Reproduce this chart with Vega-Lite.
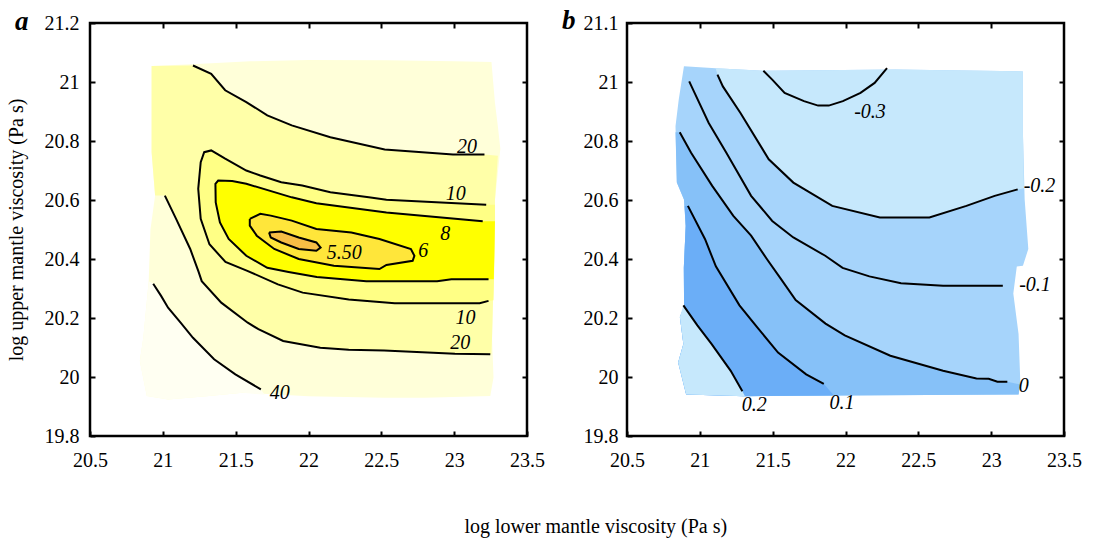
{
"$schema": "https://vega.github.io/schema/vega-lite/v6.json",
"padding": {"left": 4, "top": 5, "right": 5, "bottom": 0},
"background": "white",
"bounds": "flush",
"spacing": 100,
"title": {"text": "log lower mantle viscosity (Pa s)", "orient": "bottom", "anchor": "middle", "font": "Liberation Serif", "fontSize": 20, "fontWeight": "normal", "color": "black", "offset": 46, "dx": 52},
"config": {
  "view": {"stroke": "black", "strokeWidth": 2.5},
  "axis": {"labelFont": "Liberation Serif", "labelFontSize": 20, "labelColor": "black", "tickColor": "black", "tickWidth": 2, "tickSize": -5, "domain": false, "grid": false, "titleFont": "Liberation Serif", "titleFontSize": 20, "titleFontWeight": "normal", "titleColor": "black", "labelFlush": false, "labelOverlap": false, "labelBound": false}
},
"datasets": {
 "pa": [
  {"p":"base","x":20.923,"y":21.054},{"p":"base","x":21.2,"y":21.06},{"p":"base","x":21.6,"y":21.07},{"p":"base","x":22.0,"y":21.075},{"p":"base","x":22.535,"y":21.074},{"p":"base","x":23.0,"y":21.07},{"p":"base","x":23.256,"y":21.068},{"p":"base","x":23.28,"y":20.93},{"p":"base","x":23.3,"y":20.85},{"p":"base","x":23.317,"y":20.774},{"p":"base","x":23.28,"y":20.6},{"p":"base","x":23.28,"y":20.48},{"p":"base","x":23.272,"y":20.359},{"p":"base","x":23.26,"y":20.133},{"p":"base","x":23.27,"y":19.998},{"p":"base","x":23.248,"y":19.936},{"p":"base","x":22.8,"y":19.93},{"p":"base","x":22.519,"y":19.93},{"p":"base","x":22.0,"y":19.935},{"p":"base","x":21.547,"y":19.947},{"p":"base","x":21.3,"y":19.935},{"p":"base","x":21.036,"y":19.924},{"p":"base","x":20.89,"y":19.936},{"p":"base","x":20.842,"y":20.054},{"p":"base","x":20.866,"y":20.133},{"p":"base","x":20.903,"y":20.325},{"p":"base","x":20.915,"y":20.5},{"p":"base","x":20.947,"y":20.615},{"p":"base","x":20.923,"y":20.762},
  {"p":"gt40","x":20.934,"y":20.316},{"p":"gt40","x":20.988,"y":20.275},{"p":"gt40","x":21.036,"y":20.235},{"p":"gt40","x":21.122,"y":20.184},{"p":"gt40","x":21.207,"y":20.133},{"p":"gt40","x":21.352,"y":20.06},{"p":"gt40","x":21.498,"y":20.009},{"p":"gt40","x":21.673,"y":19.958},{"p":"gt40","x":21.7,"y":19.94},{"p":"gt40","x":21.547,"y":19.947},{"p":"gt40","x":21.3,"y":19.935},{"p":"gt40","x":21.036,"y":19.924},{"p":"gt40","x":20.89,"y":19.936},{"p":"gt40","x":20.842,"y":20.054},{"p":"gt40","x":20.866,"y":20.133},{"p":"gt40","x":20.903,"y":20.325},
  {"p":"lt20","x":20.923,"y":21.054},{"p":"lt20","x":21.207,"y":21.056},{"p":"lt20","x":21.332,"y":21.028},{"p":"lt20","x":21.428,"y":20.972},{"p":"lt20","x":21.573,"y":20.932},{"p":"lt20","x":21.717,"y":20.887},{"p":"lt20","x":21.885,"y":20.853},{"p":"lt20","x":22.15,"y":20.813},{"p":"lt20","x":22.523,"y":20.771},{"p":"lt20","x":22.992,"y":20.754},{"p":"lt20","x":23.208,"y":20.754},{"p":"lt20","x":23.3,"y":20.75},{"p":"lt20","x":23.28,"y":20.6},{"p":"lt20","x":23.28,"y":20.48},{"p":"lt20","x":23.272,"y":20.359},{"p":"lt20","x":23.26,"y":20.133},{"p":"lt20","x":23.255,"y":20.077},{"p":"lt20","x":23.248,"y":20.077},{"p":"lt20","x":23.005,"y":20.079},{"p":"lt20","x":22.519,"y":20.09},{"p":"lt20","x":22.276,"y":20.092},{"p":"lt20","x":22.081,"y":20.099},{"p":"lt20","x":21.826,"y":20.122},{"p":"lt20","x":21.656,"y":20.162},{"p":"lt20","x":21.583,"y":20.184},{"p":"lt20","x":21.401,"y":20.252},{"p":"lt20","x":21.267,"y":20.325},{"p":"lt20","x":21.245,"y":20.357},{"p":"lt20","x":21.188,"y":20.434},{"p":"lt20","x":21.091,"y":20.536},{"p":"lt20","x":21.014,"y":20.615},{"p":"lt20","x":20.947,"y":20.615},{"p":"lt20","x":20.923,"y":20.762},
  {"p":"lt10","x":23.28,"y":20.584},{"p":"lt10","x":23.22,"y":20.584},{"p":"lt10","x":22.535,"y":20.601},{"p":"lt10","x":22.414,"y":20.609},{"p":"lt10","x":22.15,"y":20.626},{"p":"lt10","x":21.957,"y":20.649},{"p":"lt10","x":21.813,"y":20.66},{"p":"lt10","x":21.669,"y":20.683},{"p":"lt10","x":21.573,"y":20.7},{"p":"lt10","x":21.428,"y":20.74},{"p":"lt10","x":21.332,"y":20.768},{"p":"lt10","x":21.284,"y":20.762},{"p":"lt10","x":21.26,"y":20.728},{"p":"lt10","x":21.243,"y":20.638},{"p":"lt10","x":21.26,"y":20.536},{"p":"lt10","x":21.32,"y":20.45},{"p":"lt10","x":21.43,"y":20.39},{"p":"lt10","x":21.58,"y":20.36},{"p":"lt10","x":21.79,"y":20.314},{"p":"lt10","x":21.96,"y":20.286},{"p":"lt10","x":22.276,"y":20.263},{"p":"lt10","x":22.592,"y":20.25},{"p":"lt10","x":23.175,"y":20.25},{"p":"lt10","x":23.236,"y":20.258},{"p":"lt10","x":23.27,"y":20.26},{"p":"lt10","x":23.28,"y":20.48},
  {"p":"lt8","x":23.28,"y":20.528},{"p":"lt8","x":23.196,"y":20.528},{"p":"lt8","x":22.535,"y":20.558},{"p":"lt8","x":22.054,"y":20.589},{"p":"lt8","x":21.885,"y":20.609},{"p":"lt8","x":21.573,"y":20.655},{"p":"lt8","x":21.476,"y":20.664},{"p":"lt8","x":21.38,"y":20.666},{"p":"lt8","x":21.361,"y":20.655},{"p":"lt8","x":21.363,"y":20.592},{"p":"lt8","x":21.392,"y":20.524},{"p":"lt8","x":21.452,"y":20.468},{"p":"lt8","x":21.573,"y":20.411},{"p":"lt8","x":21.717,"y":20.37},{"p":"lt8","x":21.863,"y":20.356},{"p":"lt8","x":22.057,"y":20.339},{"p":"lt8","x":22.397,"y":20.325},{"p":"lt8","x":22.883,"y":20.325},{"p":"lt8","x":22.981,"y":20.331},{"p":"lt8","x":23.236,"y":20.331},{"p":"lt8","x":23.272,"y":20.331},
  {"p":"lt6","x":21.597,"y":20.536},{"p":"lt6","x":21.669,"y":20.553},{"p":"lt6","x":21.741,"y":20.547},{"p":"lt6","x":21.885,"y":20.53},{"p":"lt6","x":22.054,"y":20.502},{"p":"lt6","x":22.294,"y":20.49},{"p":"lt6","x":22.487,"y":20.468},{"p":"lt6","x":22.703,"y":20.434},{"p":"lt6","x":22.727,"y":20.411},{"p":"lt6","x":22.715,"y":20.394},{"p":"lt6","x":22.535,"y":20.38},{"p":"lt6","x":22.487,"y":20.366},{"p":"lt6","x":22.174,"y":20.377},{"p":"lt6","x":21.933,"y":20.4},{"p":"lt6","x":21.765,"y":20.434},{"p":"lt6","x":21.645,"y":20.479},{"p":"lt6","x":21.597,"y":20.513},
  {"p":"lt55","x":21.729,"y":20.49},{"p":"lt55","x":21.813,"y":20.493},{"p":"lt55","x":21.933,"y":20.473},{"p":"lt55","x":22.054,"y":20.456},{"p":"lt55","x":22.083,"y":20.439},{"p":"lt55","x":22.054,"y":20.428},{"p":"lt55","x":21.933,"y":20.434},{"p":"lt55","x":21.813,"y":20.456},{"p":"lt55","x":21.741,"y":20.473}
 ],
 "la": [
  {"id":"a40","x":20.934,"y":20.316},{"id":"a40","x":20.988,"y":20.275},{"id":"a40","x":21.036,"y":20.235},{"id":"a40","x":21.122,"y":20.184},{"id":"a40","x":21.207,"y":20.133},{"id":"a40","x":21.352,"y":20.06},{"id":"a40","x":21.498,"y":20.009},{"id":"a40","x":21.673,"y":19.958},
  {"id":"a20u","x":21.207,"y":21.056},{"id":"a20u","x":21.332,"y":21.028},{"id":"a20u","x":21.428,"y":20.972},{"id":"a20u","x":21.573,"y":20.932},{"id":"a20u","x":21.717,"y":20.887},{"id":"a20u","x":21.885,"y":20.853},{"id":"a20u","x":22.15,"y":20.813},{"id":"a20u","x":22.523,"y":20.771},{"id":"a20u","x":22.992,"y":20.754},{"id":"a20u","x":23.208,"y":20.754},
  {"id":"a20l","x":21.014,"y":20.615},{"id":"a20l","x":21.091,"y":20.536},{"id":"a20l","x":21.188,"y":20.434},{"id":"a20l","x":21.245,"y":20.357},{"id":"a20l","x":21.267,"y":20.325},{"id":"a20l","x":21.401,"y":20.252},{"id":"a20l","x":21.583,"y":20.184},{"id":"a20l","x":21.656,"y":20.162},{"id":"a20l","x":21.826,"y":20.122},{"id":"a20l","x":22.081,"y":20.099},{"id":"a20l","x":22.276,"y":20.092},{"id":"a20l","x":22.519,"y":20.09},{"id":"a20l","x":23.005,"y":20.079},{"id":"a20l","x":23.248,"y":20.077},
  {"id":"a10","x":23.22,"y":20.584},{"id":"a10","x":22.535,"y":20.601},{"id":"a10","x":22.414,"y":20.609},{"id":"a10","x":22.15,"y":20.626},{"id":"a10","x":21.957,"y":20.649},{"id":"a10","x":21.813,"y":20.66},{"id":"a10","x":21.669,"y":20.683},{"id":"a10","x":21.573,"y":20.7},{"id":"a10","x":21.428,"y":20.74},{"id":"a10","x":21.332,"y":20.768},{"id":"a10","x":21.284,"y":20.762},{"id":"a10","x":21.26,"y":20.728},{"id":"a10","x":21.243,"y":20.638},{"id":"a10","x":21.26,"y":20.536},{"id":"a10","x":21.32,"y":20.45},{"id":"a10","x":21.43,"y":20.39},{"id":"a10","x":21.58,"y":20.36},{"id":"a10","x":21.79,"y":20.314},{"id":"a10","x":21.96,"y":20.286},{"id":"a10","x":22.276,"y":20.263},{"id":"a10","x":22.592,"y":20.25},{"id":"a10","x":23.175,"y":20.25},{"id":"a10","x":23.236,"y":20.258},
  {"id":"a8","x":23.196,"y":20.528},{"id":"a8","x":22.535,"y":20.558},{"id":"a8","x":22.054,"y":20.589},{"id":"a8","x":21.885,"y":20.609},{"id":"a8","x":21.573,"y":20.655},{"id":"a8","x":21.476,"y":20.664},{"id":"a8","x":21.38,"y":20.666},{"id":"a8","x":21.361,"y":20.655},{"id":"a8","x":21.363,"y":20.592},{"id":"a8","x":21.392,"y":20.524},{"id":"a8","x":21.452,"y":20.468},{"id":"a8","x":21.573,"y":20.411},{"id":"a8","x":21.717,"y":20.37},{"id":"a8","x":21.863,"y":20.356},{"id":"a8","x":22.057,"y":20.339},{"id":"a8","x":22.397,"y":20.325},{"id":"a8","x":22.883,"y":20.325},{"id":"a8","x":22.981,"y":20.331},{"id":"a8","x":23.236,"y":20.331},
  {"id":"a6","x":21.597,"y":20.536},{"id":"a6","x":21.669,"y":20.553},{"id":"a6","x":21.741,"y":20.547},{"id":"a6","x":21.885,"y":20.53},{"id":"a6","x":22.054,"y":20.502},{"id":"a6","x":22.294,"y":20.49},{"id":"a6","x":22.487,"y":20.468},{"id":"a6","x":22.703,"y":20.434},{"id":"a6","x":22.727,"y":20.411},{"id":"a6","x":22.715,"y":20.394},{"id":"a6","x":22.535,"y":20.38},{"id":"a6","x":22.487,"y":20.366},{"id":"a6","x":22.174,"y":20.377},{"id":"a6","x":21.933,"y":20.4},{"id":"a6","x":21.765,"y":20.434},{"id":"a6","x":21.645,"y":20.479},{"id":"a6","x":21.597,"y":20.513},{"id":"a6","x":21.597,"y":20.536},
  {"id":"a55","x":21.729,"y":20.49},{"id":"a55","x":21.813,"y":20.493},{"id":"a55","x":21.933,"y":20.473},{"id":"a55","x":22.054,"y":20.456},{"id":"a55","x":22.083,"y":20.439},{"id":"a55","x":22.054,"y":20.428},{"id":"a55","x":21.933,"y":20.434},{"id":"a55","x":21.813,"y":20.456},{"id":"a55","x":21.741,"y":20.473},{"id":"a55","x":21.729,"y":20.49}
 ],
 "ta": [
  {"t":"20","x":23.088,"y":20.779},{"t":"10","x":23.011,"y":20.621},{"t":"8","x":22.939,"y":20.485},{"t":"6","x":22.787,"y":20.428},{"t":"5.50","x":22.246,"y":20.422},{"t":"10","x":23.078,"y":20.201},{"t":"20","x":23.041,"y":20.116},{"t":"40","x":21.802,"y":19.947}
 ],
 "pb": [
  {"p":"base","x":20.891,"y":21.053},{"p":"base","x":21.109,"y":21.047},{"p":"base","x":21.436,"y":21.038},{"p":"base","x":22.345,"y":21.042},{"p":"base","x":23.218,"y":21.036},{"p":"base","x":23.218,"y":20.828},{"p":"base","x":23.23,"y":20.602},{"p":"base","x":23.255,"y":20.434},{"p":"base","x":23.218,"y":20.377},{"p":"base","x":23.176,"y":20.375},{"p":"base","x":23.152,"y":20.283},{"p":"base","x":23.188,"y":20.146},{"p":"base","x":23.2,"y":19.986},{"p":"base","x":23.188,"y":19.941},{"p":"base","x":21.947,"y":19.937},{"p":"base","x":21.308,"y":19.935},{"p":"base","x":20.906,"y":19.941},{"p":"base","x":20.851,"y":20.049},{"p":"base","x":20.887,"y":20.112},{"p":"base","x":20.863,"y":20.203},{"p":"base","x":20.892,"y":20.238},{"p":"base","x":20.89,"y":20.37},{"p":"base","x":20.903,"y":20.512},{"p":"base","x":20.891,"y":20.602},{"p":"base","x":20.842,"y":20.659},{"p":"base","x":20.833,"y":20.85},{"p":"base","x":20.855,"y":20.94},
  {"p":"pale","x":21.109,"y":21.047},{"p":"pale","x":21.436,"y":21.038},{"p":"pale","x":22.345,"y":21.042},{"p":"pale","x":23.218,"y":21.036},{"p":"pale","x":23.218,"y":20.828},{"p":"pale","x":23.225,"y":20.64},{"p":"pale","x":23.182,"y":20.636},{"p":"pale","x":23.024,"y":20.614},{"p":"pale","x":22.83,"y":20.58},{"p":"pale","x":22.576,"y":20.541},{"p":"pale","x":22.236,"y":20.541},{"p":"pale","x":21.909,"y":20.58},{"p":"pale","x":21.642,"y":20.659},{"p":"pale","x":21.473,"y":20.738},{"p":"pale","x":21.279,"y":20.895},{"p":"pale","x":21.158,"y":20.985},{"p":"pale","x":21.121,"y":21.025},
  {"p":"B","x":20.862,"y":20.83},{"p":"B","x":20.94,"y":20.76},{"p":"B","x":21.085,"y":20.648},{"p":"B","x":21.23,"y":20.546},{"p":"B","x":21.352,"y":20.479},{"p":"B","x":21.46,"y":20.4},{"p":"B","x":21.56,"y":20.33},{"p":"B","x":21.658,"y":20.261},{"p":"B","x":21.863,"y":20.181},{"p":"B","x":21.995,"y":20.141},{"p":"B","x":22.308,"y":20.072},{"p":"B","x":22.67,"y":20.021},{"p":"B","x":22.899,"y":19.995},{"p":"B","x":22.983,"y":19.994},{"p":"B","x":23.043,"y":19.984},{"p":"B","x":23.111,"y":19.984},{"p":"B","x":23.2,"y":19.975},{"p":"B","x":23.188,"y":19.941},{"p":"B","x":21.947,"y":19.937},{"p":"B","x":21.308,"y":19.935},{"p":"B","x":20.906,"y":19.941},{"p":"B","x":20.851,"y":20.049},{"p":"B","x":20.887,"y":20.112},{"p":"B","x":20.863,"y":20.203},{"p":"B","x":20.892,"y":20.238},{"p":"B","x":20.89,"y":20.37},{"p":"B","x":20.903,"y":20.512},{"p":"B","x":20.891,"y":20.602},{"p":"B","x":20.842,"y":20.659},{"p":"B","x":20.833,"y":20.83},
  {"p":"C","x":20.918,"y":20.58},{"p":"C","x":21.036,"y":20.467},{"p":"C","x":21.11,"y":20.375},{"p":"C","x":21.272,"y":20.243},{"p":"C","x":21.393,"y":20.169},{"p":"C","x":21.537,"y":20.083},{"p":"C","x":21.73,"y":20.009},{"p":"C","x":21.851,"y":19.977},{"p":"C","x":21.92,"y":19.937},{"p":"C","x":21.308,"y":19.935},{"p":"C","x":20.906,"y":19.941},{"p":"C","x":20.851,"y":20.049},{"p":"C","x":20.887,"y":20.112},{"p":"C","x":20.863,"y":20.203},{"p":"C","x":20.892,"y":20.238},{"p":"C","x":20.89,"y":20.37},{"p":"C","x":20.903,"y":20.512},{"p":"C","x":20.896,"y":20.58},
  {"p":"D","x":20.887,"y":20.243},{"p":"D","x":20.983,"y":20.175},{"p":"D","x":21.08,"y":20.112},{"p":"D","x":21.212,"y":20.021},{"p":"D","x":21.292,"y":19.952},{"p":"D","x":21.31,"y":19.935},{"p":"D","x":20.906,"y":19.941},{"p":"D","x":20.851,"y":20.049},{"p":"D","x":20.887,"y":20.112},{"p":"D","x":20.863,"y":20.203}
 ],
 "lb": [
  {"id":"b03","x":21.436,"y":21.038},{"id":"b03","x":21.497,"y":21.008},{"id":"b03","x":21.582,"y":20.963},{"id":"b03","x":21.715,"y":20.935},{"id":"b03","x":21.812,"y":20.92},{"id":"b03","x":21.885,"y":20.92},{"id":"b03","x":21.982,"y":20.935},{"id":"b03","x":22.103,"y":20.963},{"id":"b03","x":22.2,"y":20.997},{"id":"b03","x":22.285,"y":21.047},
  {"id":"b02","x":21.121,"y":21.025},{"id":"b02","x":21.158,"y":20.985},{"id":"b02","x":21.279,"y":20.895},{"id":"b02","x":21.473,"y":20.738},{"id":"b02","x":21.642,"y":20.659},{"id":"b02","x":21.909,"y":20.58},{"id":"b02","x":22.236,"y":20.541},{"id":"b02","x":22.576,"y":20.541},{"id":"b02","x":22.83,"y":20.58},{"id":"b02","x":23.024,"y":20.614},{"id":"b02","x":23.182,"y":20.636},
  {"id":"b01","x":20.927,"y":21.002},{"id":"b01","x":20.964,"y":20.963},{"id":"b01","x":21.061,"y":20.861},{"id":"b01","x":21.182,"y":20.76},{"id":"b01","x":21.352,"y":20.614},{"id":"b01","x":21.497,"y":20.529},{"id":"b01","x":21.642,"y":20.473},{"id":"b01","x":21.861,"y":20.411},{"id":"b01","x":21.98,"y":20.37},{"id":"b01","x":22.164,"y":20.341},{"id":"b01","x":22.381,"y":20.318},{"id":"b01","x":22.67,"y":20.309},{"id":"b01","x":23.08,"y":20.309},
  {"id":"b0","x":20.862,"y":20.83},{"id":"b0","x":20.94,"y":20.76},{"id":"b0","x":21.085,"y":20.648},{"id":"b0","x":21.23,"y":20.546},{"id":"b0","x":21.352,"y":20.479},{"id":"b0","x":21.46,"y":20.4},{"id":"b0","x":21.56,"y":20.33},{"id":"b0","x":21.658,"y":20.261},{"id":"b0","x":21.863,"y":20.181},{"id":"b0","x":21.995,"y":20.141},{"id":"b0","x":22.308,"y":20.072},{"id":"b0","x":22.67,"y":20.021},{"id":"b0","x":22.899,"y":19.995},{"id":"b0","x":22.983,"y":19.994},{"id":"b0","x":23.043,"y":19.984},{"id":"b0","x":23.111,"y":19.984},
  {"id":"b1","x":20.918,"y":20.58},{"id":"b1","x":21.036,"y":20.467},{"id":"b1","x":21.11,"y":20.375},{"id":"b1","x":21.272,"y":20.243},{"id":"b1","x":21.393,"y":20.169},{"id":"b1","x":21.537,"y":20.083},{"id":"b1","x":21.73,"y":20.009},{"id":"b1","x":21.851,"y":19.977},
  {"id":"b2","x":20.887,"y":20.243},{"id":"b2","x":20.983,"y":20.175},{"id":"b2","x":21.08,"y":20.112},{"id":"b2","x":21.212,"y":20.021},{"id":"b2","x":21.292,"y":19.952}
 ],
 "tb": [
  {"t":"-0.3","x":22.168,"y":20.899},{"t":"-0.2","x":23.332,"y":20.648},{"t":"-0.1","x":23.301,"y":20.312},{"t":"0","x":23.224,"y":19.968},{"t":"0.1","x":21.976,"y":19.912},{"t":"0.2","x":21.373,"y":19.906}
 ]
},
"hconcat": [
 {
  "width": 437, "height": 413,
  "title": {"text": "a", "anchor": "start", "frame": "group", "orient": "top", "offset": -38, "dx": -75, "dy": 6, "baseline": "alphabetic", "font": "Liberation Serif", "fontSize": 27, "fontStyle": "italic", "fontWeight": "bold", "color": "black"},
  "encoding": {
   "x": {"field": "x", "type": "quantitative", "scale": {"domain": [20.5, 23.5], "nice": false, "zero": false}, "axis": null},
   "y": {"field": "y", "type": "quantitative", "scale": {"domain": [19.8, 21.2], "nice": false, "zero": false}, "axis": null},
   "order": {"value": null}
  },
  "layer": [
   {"data": {"name": "pa"}, "transform": [{"filter": "datum.p == 'base'"}], "mark": {"type": "line", "filled": true, "color": "#FFFFD9"},
    "encoding": {
     "x": {"field": "x", "type": "quantitative", "scale": {"domain": [20.5, 23.5], "nice": false, "zero": false}, "axis": {"orient": "bottom", "values": [20.5, 21, 21.5, 22, 22.5, 23, 23.5], "format": "~g", "title": null, "labelPadding": 19}},
     "y": {"field": "y", "type": "quantitative", "scale": {"domain": [19.8, 21.2], "nice": false, "zero": false}, "axis": {"orient": "left", "values": [19.8, 20, 20.2, 20.4, 20.6, 20.8, 21, 21.2], "format": "~g", "title": "log upper mantle viscosity (Pa s)", "labelPadding": 16, "titlePadding": 18}}
    }},
   {"data": {"name": "pa"}, "transform": [{"filter": "datum.p == 'gt40'"}], "mark": {"type": "line", "filled": true, "color": "#FFFFF2"}},
   {"data": {"name": "pa"}, "transform": [{"filter": "datum.p == 'lt20'"}], "mark": {"type": "line", "filled": true, "color": "#FFFFA8"}},
   {"data": {"name": "pa"}, "transform": [{"filter": "datum.p == 'lt10'"}], "mark": {"type": "line", "filled": true, "color": "#FFFF85"}},
   {"data": {"name": "pa"}, "transform": [{"filter": "datum.p == 'lt8'"}], "mark": {"type": "line", "filled": true, "color": "#FFFF00"}},
   {"data": {"name": "pa"}, "transform": [{"filter": "datum.p == 'lt6'"}], "mark": {"type": "line", "filled": true, "color": "#FFE63A"}},
   {"data": {"name": "pa"}, "transform": [{"filter": "datum.p == 'lt55'"}], "mark": {"type": "line", "filled": true, "color": "#F7BE45"}},
   {"data": {"name": "la"}, "mark": {"type": "line", "color": "black", "strokeWidth": 2},
    "encoding": {
     "x": {"field": "x", "type": "quantitative", "scale": {"domain": [20.5, 23.5], "nice": false, "zero": false}, "axis": {"orient": "top", "values": [21, 21.5, 22, 22.5, 23], "labels": false, "title": null}},
     "y": {"field": "y", "type": "quantitative", "scale": {"domain": [19.8, 21.2], "nice": false, "zero": false}, "axis": {"orient": "right", "values": [20, 20.2, 20.4, 20.6, 20.8, 21], "labels": false, "title": null}},
     "detail": {"field": "id"},
     "order": {"value": null}
    }},
   {"data": {"name": "ta"}, "mark": {"type": "text", "font": "Liberation Serif", "fontStyle": "italic", "fontSize": 20, "align": "center", "baseline": "middle", "color": "black"},
    "encoding": {"text": {"field": "t"}}}
  ],
  "resolve": {"axis": {"x": "independent", "y": "independent"}}
 },
 {
  "width": 437, "height": 413,
  "title": {"text": "b", "anchor": "start", "frame": "group", "orient": "top", "offset": -38, "dx": -65, "dy": 5, "baseline": "alphabetic", "font": "Liberation Serif", "fontSize": 27, "fontStyle": "italic", "fontWeight": "bold", "color": "black"},
  "encoding": {
   "x": {"field": "x", "type": "quantitative", "scale": {"domain": [20.5, 23.5], "nice": false, "zero": false}, "axis": null},
   "y": {"field": "y", "type": "quantitative", "scale": {"domain": [19.8, 21.2], "nice": false, "zero": false}, "axis": null},
   "order": {"value": null}
  },
  "layer": [
   {"data": {"name": "pb"}, "transform": [{"filter": "datum.p == 'base'"}], "mark": {"type": "line", "filled": true, "color": "#A6D4FB"},
    "encoding": {
     "x": {"field": "x", "type": "quantitative", "scale": {"domain": [20.5, 23.5], "nice": false, "zero": false}, "axis": {"orient": "bottom", "values": [20.5, 21, 21.5, 22, 22.5, 23, 23.5], "format": "~g", "title": null, "labelPadding": 19}},
     "y": {"field": "y", "type": "quantitative", "scale": {"domain": [19.8, 21.2], "nice": false, "zero": false}, "axis": {"orient": "left", "values": [19.8, 20, 20.2, 20.4, 20.6, 20.8, 21, 21.2], "format": "~g", "labelExpr": "datum.value > 21.15 ? '21.1' : datum.label", "title": null, "labelPadding": 14}}
    }},
   {"data": {"name": "pb"}, "transform": [{"filter": "datum.p == 'pale'"}], "mark": {"type": "line", "filled": true, "color": "#C6E8FC"}},
   {"data": {"name": "pb"}, "transform": [{"filter": "datum.p == 'B'"}], "mark": {"type": "line", "filled": true, "color": "#86C1F8"}},
   {"data": {"name": "pb"}, "transform": [{"filter": "datum.p == 'C'"}], "mark": {"type": "line", "filled": true, "color": "#6BAEF7"}},
   {"data": {"name": "pb"}, "transform": [{"filter": "datum.p == 'D'"}], "mark": {"type": "line", "filled": true, "color": "#C6E8FC"}},
   {"data": {"name": "lb"}, "mark": {"type": "line", "color": "black", "strokeWidth": 2},
    "encoding": {
     "x": {"field": "x", "type": "quantitative", "scale": {"domain": [20.5, 23.5], "nice": false, "zero": false}, "axis": {"orient": "top", "values": [21, 21.5, 22, 22.5, 23], "labels": false, "title": null}},
     "y": {"field": "y", "type": "quantitative", "scale": {"domain": [19.8, 21.2], "nice": false, "zero": false}, "axis": {"orient": "right", "values": [20, 20.2, 20.4, 20.6, 20.8, 21], "labels": false, "title": null}},
     "detail": {"field": "id"},
     "order": {"value": null}
    }},
   {"data": {"name": "tb"}, "mark": {"type": "text", "font": "Liberation Serif", "fontStyle": "italic", "fontSize": 20, "align": "center", "baseline": "middle", "color": "black"},
    "encoding": {"text": {"field": "t"}}}
  ],
  "resolve": {"axis": {"x": "independent", "y": "independent"}}
 }
]
}
